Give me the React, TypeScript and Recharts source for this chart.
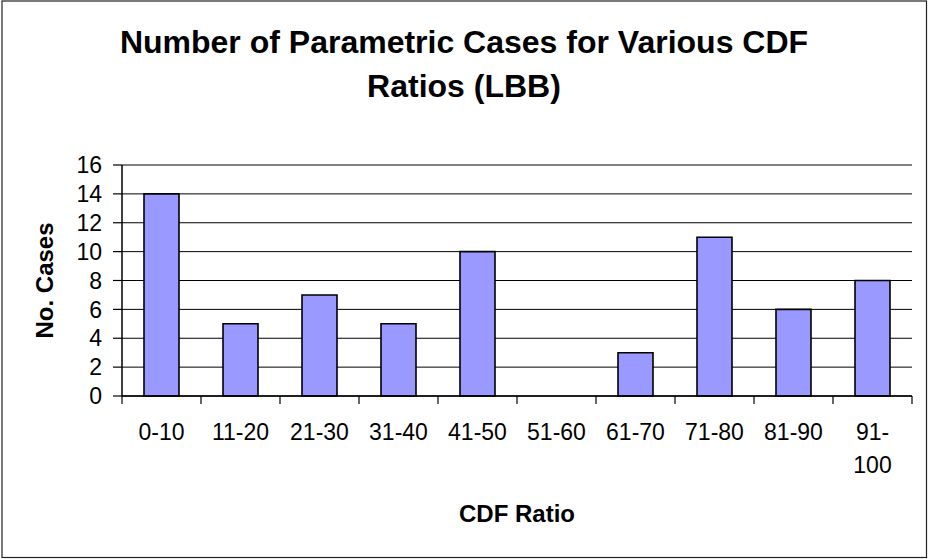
import React from 'react';
import { BarChart, Bar, XAxis, YAxis, CartesianGrid, ReferenceLine } from 'recharts';

const categories = ['0-10', '11-20', '21-30', '31-40', '41-50', '51-60', '61-70', '71-80', '81-90', '91-100'];
const cases = [14, 5, 7, 5, 10, 0, 3, 11, 6, 8];
const yTicks = [0, 2, 4, 6, 8, 10, 12, 14, 16];
const titleLines = ['Number of Parametric Cases for Various CDF', 'Ratios (LBB)'];
const xTitle = 'CDF Ratio';
const yTitle = 'No. Cases';

const W = 928;
const H = 559;
const X_AXIS_H = 163;
const M = { top: 165, right: 16, bottom: 0, left: 0 };
const Y_AXIS_W = 122;
const PLOT_W = W - M.left - Y_AXIS_W - M.right;
const BAND = PLOT_W / categories.length;
const AXIS_Y = H - X_AXIS_H;
const FONT = '"Liberation Sans", Arial, sans-serif';

const data = categories.map((c, i) => ({ category: c, cases: cases[i] }));

function XTick(props: any) {
  const { x, payload, index } = props;
  const label: string = String(payload.value);
  const lines = label.length > 5 ? [label.slice(0, label.indexOf('-') + 1), label.slice(label.indexOf('-') + 1)] : [label];
  const left = x - BAND / 2;
  const right = x + BAND / 2;
  return (
    <g>
      <line x1={left} x2={left} y1={AXIS_Y} y2={AXIS_Y + 8} stroke="#000" strokeWidth={1.2} />
      {index === categories.length - 1 && (
        <line x1={right} x2={right} y1={AXIS_Y} y2={AXIS_Y + 8} stroke="#000" strokeWidth={1.2} />
      )}
      {lines.map((ln, i) => (
        <text key={i} x={x} y={AXIS_Y + 44 + i * 33} textAnchor="middle" fontSize={23} fontFamily={FONT} fill="#000">
          {ln}
        </text>
      ))}
    </g>
  );
}

export default function App() {
  return (
    <div style={{ position: 'absolute', left: 0, top: 0, width: W, height: H, background: '#fff' }}>
      <BarChart width={W} height={H} data={data} margin={M} barSize={35}>
        <CartesianGrid horizontal={true} vertical={false} stroke="#000" strokeWidth={1} yAxisId="l" />
        <XAxis
          dataKey="category"
          tickLine={false}
          axisLine={{ stroke: '#000', strokeWidth: 1.5 }}
          tick={<XTick />}
          interval={0}
          height={X_AXIS_H}
        />
        <YAxis
          yAxisId="l"
          domain={[0, 16]}
          ticks={yTicks}
          interval={0}
          width={Y_AXIS_W}
          tickSize={9}
          tickMargin={11}
          tickLine={{ stroke: '#000', strokeWidth: 1.2 }}
          axisLine={{ stroke: '#000', strokeWidth: 1.5 }}
          tick={{ fontSize: 23, fill: '#000', fontFamily: FONT }}
        />
        <YAxis
          yAxisId="r"
          orientation="right"
          domain={[0, 16]}
          width={0}
          tick={false}
          tickLine={false}
          axisLine={{ stroke: '#808080', strokeWidth: 2 }}
        />
        <ReferenceLine yAxisId="l" y={16} stroke="#808080" strokeWidth={2} />
        <Bar yAxisId="l" dataKey="cases" fill="#9999FF" stroke="#000" strokeWidth={1.6} isAnimationActive={false} />
      </BarChart>
      <svg width={W} height={H} style={{ position: 'absolute', left: 0, top: 0, pointerEvents: 'none' }}>
        {titleLines.map((t, i) => (
          <text key={i} x={464} y={53 + i * 44} textAnchor="middle" fontSize={32} fontWeight="bold" fontFamily={FONT} fill="#000">
            {t}
          </text>
        ))}
        <text x={517} y={522} textAnchor="middle" fontSize={24} fontWeight="bold" fontFamily={FONT} fill="#000">
          {xTitle}
        </text>
        <text
          x={0}
          y={0}
          transform={`translate(53, ${(M.top + AXIS_Y) / 2}) rotate(-90)`}
          textAnchor="middle"
          fontSize={24}
          fontWeight="bold"
          fontFamily={FONT}
          fill="#000"
        >
          {yTitle}
        </text>
        <rect x={2} y={1} width={W - 3.5} height={H - 2.5} fill="none" stroke="#222" strokeWidth={1.2} />
      </svg>
    </div>
  );
}
